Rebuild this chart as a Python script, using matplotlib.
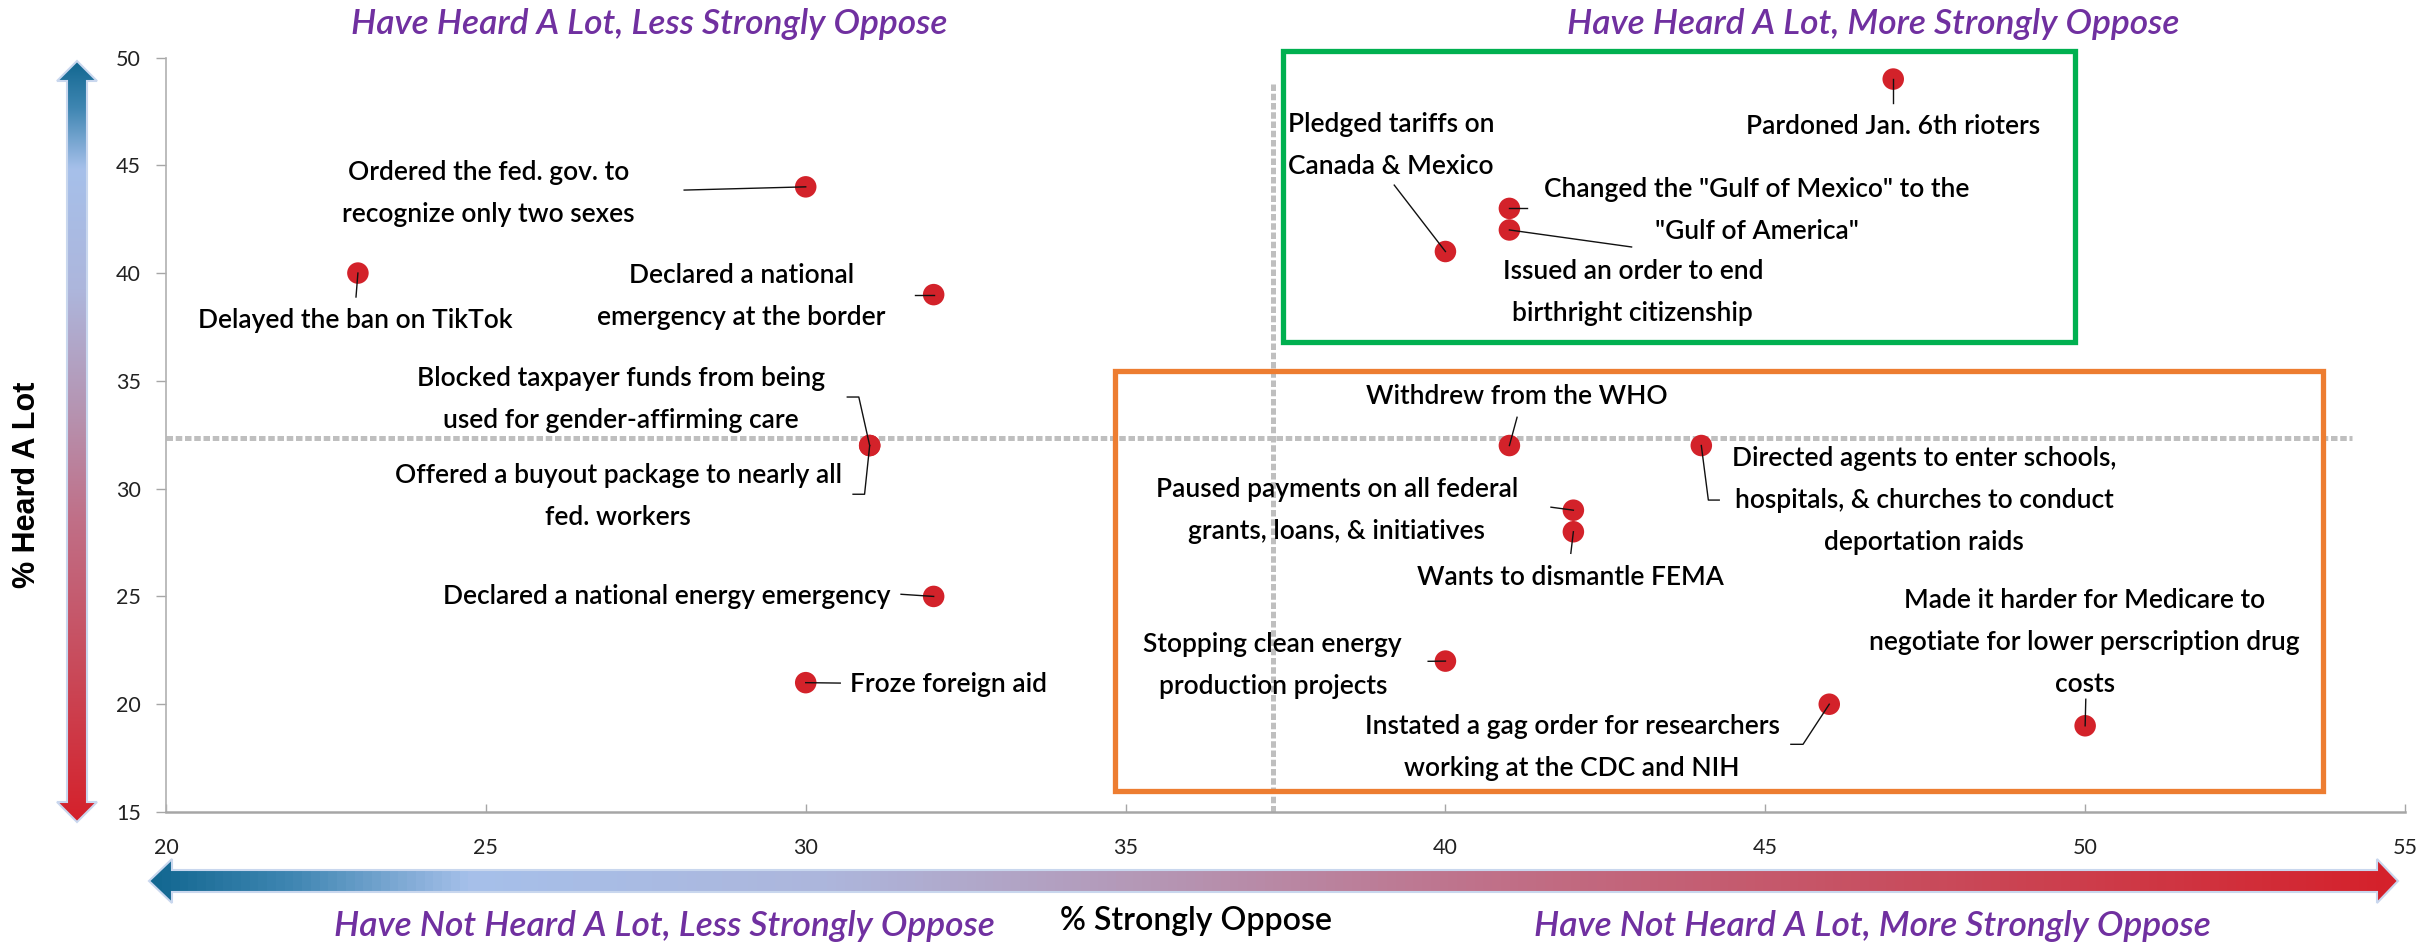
import numpy as np
import matplotlib.pyplot as plt
from matplotlib.colors import LinearSegmentedColormap
from matplotlib.patches import Polygon, Rectangle

# values
actions = [
    "Pardoned Jan. 6th rioters",
    "Pledged tariffs on\nCanada & Mexico",
    "Changed the \"Gulf of Mexico\" to the\n\"Gulf of America\"",
    "Issued an order to end\nbirthright citizenship",
    "Ordered the fed. gov. to\nrecognize only two sexes",
    "Delayed the ban on TikTok",
    "Declared a national\nemergency at the border",
    "Blocked taxpayer funds from being\nused for gender-affirming care",
    "Offered a buyout package to nearly all\nfed. workers",
    "Declared a national energy emergency",
    "Froze foreign aid",
    "Withdrew from the WHO",
    "Directed agents to enter schools,\nhospitals, & churches to conduct\ndeportation raids",
    "Paused payments on all federal\ngrants, loans, & initiatives",
    "Wants to dismantle FEMA",
    "Stopping clean energy\nproduction projects",
    "Instated a gag order for researchers\nworking at the CDC and NIH",
    "Made it harder for Medicare to\nnegotiate for lower perscription drug\ncosts",
]
strongly_oppose = [47, 40, 41, 41, 30, 23, 32, 31, 31, 32, 30, 41, 44, 42, 42, 40, 46, 50]
heard_a_lot = [49, 41, 43, 42, 44, 40, 39, 32, 32, 25, 21, 32, 32, 29, 28, 22, 20, 19]

# label centres and leader line bends (data units)
label_x = [46.99, 39.15, 44.87, 42.93, 25.04, 22.96, 28.99, 27.11, 27.07, 27.82,
           32.23, 41.12, 47.48, 38.30, 41.96, 37.30, 41.98, 49.99]
label_y = [46.8, 45.94, 42.92, 39.12, 43.71, 37.82, 38.89, 34.15, 29.65, 25.01,
           20.93, 34.29, 29.47, 29.0, 25.89, 21.81, 18.0, 22.88]
leaders = [
    [(47, 47.9)], [(39.2, 44.08)], [(41.27, 43)], [(42.91, 41.21)],
    [(28.10, 43.85)], [(22.97, 38.89)], [(31.71, 39)],
    [(30.65, 34.25), (30.83, 34.25)], [(30.74, 29.74), (30.92, 29.74)],
    [(31.49, 25.1)], [(30.54, 20.98)], [(41.12, 33.31)],
    [(44.28, 29.47), (44.11, 29.47)], [(41.65, 29.14)], [(41.96, 27.0)],
    [(39.73, 21.99)], [(45.40, 18.14), (45.59, 18.14)], [(50.01, 20.23)],
]

avg_oppose = 37.3
avg_heard = 32.34

x_ticks = [20, 25, 30, 35, 40, 45, 50, 55]
y_ticks = [15, 20, 25, 30, 35, 40, 45, 50]

quadrant_titles = [
    "Have Heard A Lot, Less Strongly Oppose",
    "Have Heard A Lot, More Strongly Oppose",
    "Have Not Heard A Lot, Less Strongly Oppose",
    "Have Not Heard A Lot, More Strongly Oppose",
]

W, H = 2435, 944
FONT = "Lato"
PURPLE = "#7030a0"


def gradient_arrow(ov, pts, extent, vertical, cmap):
    poly = Polygon(pts, closed=True, facecolor="none", edgecolor="#c9d7ee",
                   linewidth=1.5, zorder=3)
    ov.add_patch(poly)
    g = np.linspace(0, 1, 256)
    g = g.reshape(-1, 1) if vertical else g.reshape(1, -1)
    im = ov.imshow(g, extent=extent, cmap=cmap, aspect="auto", zorder=2,
                   interpolation="bilinear")
    im.set_clip_path(poly)


def main():
    plt.rcParams["font.family"] = [FONT, "DejaVu Sans"]
    fig = plt.figure(figsize=(W / 100, H / 100), dpi=100)

    ax = fig.add_axes([166 / W, 1 - 812 / H, (2405 - 166) / W, (812 - 57.5) / H])
    ax.set_xlim(20, 55)
    ax.set_ylim(15, 50)
    ax.set_xticks(x_ticks)
    ax.set_yticks(y_ticks)
    for s in ["top", "right"]:
        ax.spines[s].set_visible(False)
    ax.spines["left"].set_color("#b0b0b0")
    ax.spines["left"].set_linewidth(1.2)
    ax.spines["bottom"].set_color("#a6a6a6")
    ax.spines["bottom"].set_linewidth(1.8)
    ax.tick_params(axis="x", direction="in", length=6, width=1, color="#a6a6a6",
                   pad=19, labelsize=15.5, labelcolor="#222222")
    ax.tick_params(axis="y", direction="out", length=7, width=1, color="#a6a6a6",
                   pad=11, labelsize=15.5, labelcolor="#222222")

    # average lines
    ax.plot([20, 54.17], [avg_heard, avg_heard], color="#bfbfbf", lw=3.6,
            ls=(0, (1.3, 0.55)), zorder=1)
    ax.plot([avg_oppose, avg_oppose], [15, 48.8], color="#bfbfbf", lw=3.6,
            ls=(0, (1.3, 0.55)), zorder=1)

    # highlight boxes
    ax.add_patch(Rectangle((37.46, 36.80), 49.84 - 37.46, 50.30 - 36.80,
                           fill=False, edgecolor="#00b050", lw=3.8,
                           clip_on=False, zorder=2))
    ax.add_patch(Rectangle((34.83, 15.99), 53.72 - 34.83, 35.45 - 15.99,
                           fill=False, edgecolor="#ed7d31", lw=3.8,
                           clip_on=False, zorder=2))

    ax.scatter(strongly_oppose, heard_a_lot, s=240, color="#d3222a",
               edgecolors="none", zorder=5)

    for i, label in enumerate(actions):
        ax.text(label_x[i], label_y[i], label, ha="center", va="center",
                fontsize=19, fontweight="semibold", color="black",
                linespacing=1.85, zorder=7)
        path = leaders[i] + [(strongly_oppose[i], heard_a_lot[i])]
        ax.plot([p[0] for p in path], [p[1] for p in path], color="#111111",
                lw=1.0, zorder=6)

    # overlay in pixel coords for arrows and outer titles
    ov = fig.add_axes([0, 0, 1, 1], zorder=3)
    ov.set_xlim(0, W)
    ov.set_ylim(H, 0)
    ov.axis("off")

    cmap = LinearSegmentedColormap.from_list("heard", [
        (0.0, "#136891"), (0.06, "#3f86b2"), (0.14, "#a6c0ea"), (0.30, "#adb6dc"),
        (0.45, "#b596b4"), (0.60, "#c07088"), (0.80, "#c94a5a"), (1.0, "#d5212b")])

    y_arrow = [(77, 61), (97, 81), (87, 81), (87, 802), (97, 802), (77, 822),
               (57, 802), (67, 802), (67, 81), (57, 81)]
    gradient_arrow(ov, y_arrow, (57, 97, 822, 61), True, cmap)
    x_arrow = [(149, 881), (172, 859), (172, 870), (2377, 870), (2377, 859),
               (2398, 881), (2377, 903), (2377, 892), (172, 892), (172, 903)]
    gradient_arrow(ov, x_arrow, (149, 2398, 903, 859), False, cmap)

    ov.text(27, 485, "% Heard A Lot", rotation=90, ha="center", va="center",
            fontsize=22, fontweight="bold", family=["Liberation Sans"])
    ov.text(1196, 921, "% Strongly Oppose", ha="center", va="center",
            fontsize=23, fontweight="semibold")

    title_pos = [(649, 24), (1873, 24), (664, 926), (1872, 926)]
    for t, (px, py) in zip(quadrant_titles, title_pos):
        ov.text(px, py, t, ha="center", va="center", fontsize=25.5,
                fontweight="semibold", style="italic", color=PURPLE)

    fig.savefig("out.png", dpi=100)


if __name__ == "__main__":
    main()
